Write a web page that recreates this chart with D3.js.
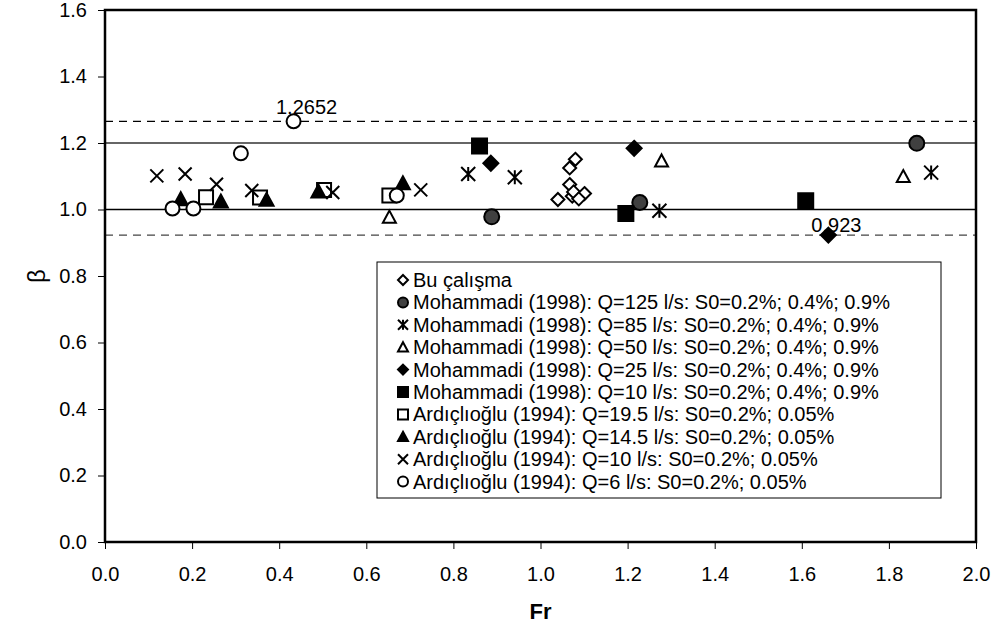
<!DOCTYPE html>
<html>
<head>
<meta charset="utf-8">
<script src="https://cdn.jsdelivr.net/npm/d3@7"></script>
<style>
  body { margin: 0; background: #fff; }
  svg text { font-family: Arial, "Liberation Sans", sans-serif; fill: #000; }
</style>
</head>
<body>
<div id="chart"></div>
<script>
// ---- data ----
const xTicks = [0.0, 0.2, 0.4, 0.6, 0.8, 1.0, 1.2, 1.4, 1.6, 1.8, 2.0];
const yTicks = [0.0, 0.2, 0.4, 0.6, 0.8, 1.0, 1.2, 1.4, 1.6];

const buFr   = [1.080, 1.067, 1.067, 1.040, 1.073, 1.076, 1.101, 1.088];
const buB    = [1.151, 1.125, 1.075, 1.030, 1.040, 1.053, 1.048, 1.032];
const m125Fr = [0.888, 1.228, 1.864];
const m125B  = [0.978, 1.021, 1.199];
const m85Fr  = [0.834, 0.941, 1.273, 1.897];
const m85B   = [1.107, 1.097, 0.996, 1.111];
const m50Fr  = [0.653, 1.278, 1.833];
const m50B   = [0.977, 1.146, 1.099];
const m25Fr  = [0.886, 1.215, 1.661];
const m25B   = [1.139, 1.184, 0.923];
const m10Fr  = [0.860, 1.196, 1.609];
const m10B   = [1.191, 0.988, 1.026];
const a195Fr = [0.232, 0.356, 0.503, 0.653];
const a195B  = [1.037, 1.036, 1.059, 1.042];
const a145Fr = [0.174, 0.266, 0.371, 0.490, 0.684];
const a145B  = [1.031, 1.024, 1.029, 1.054, 1.079];
const a10Fr  = [0.119, 0.184, 0.256, 0.337, 0.523, 0.725];
const a10B   = [1.101, 1.107, 1.076, 1.057, 1.051, 1.059];
const a6Fr   = [0.155, 0.203, 0.312, 0.433, 0.670];
const a6B    = [1.003, 1.003, 1.169, 1.2652, 1.042];

const seriesNames = [
  "Bu çalışma",
  "Mohammadi (1998): Q=125 l/s: S0=0.2%; 0.4%; 0.9%",
  "Mohammadi (1998): Q=85 l/s: S0=0.2%; 0.4%; 0.9%",
  "Mohammadi (1998): Q=50 l/s: S0=0.2%; 0.4%; 0.9%",
  "Mohammadi (1998): Q=25 l/s: S0=0.2%; 0.4%; 0.9%",
  "Mohammadi (1998): Q=10 l/s: S0=0.2%; 0.4%; 0.9%",
  "Ardıçlıoğlu (1994): Q=19.5 l/s: S0=0.2%; 0.05%",
  "Ardıçlıoğlu (1994): Q=14.5 l/s: S0=0.2%; 0.05%",
  "Ardıçlıoğlu (1994): Q=10 l/s: S0=0.2%; 0.05%",
  "Ardıçlıoğlu (1994): Q=6 l/s: S0=0.2%; 0.05%"
];

const solidLines  = [1.0, 1.2];
const dashedLines = [1.2652, 0.923];
const annFr   = [0.433, 1.661];
const annB    = [1.2652, 0.923];
const annText = ["1.2652", "0.923"];

// ---- layout ----
const W = 997, H = 630;
const margin = {top: 10, right: 21, bottom: 88, left: 105};
const width  = W - margin.left - margin.right;
const height = H - margin.top - margin.bottom;

const xScale = d3.scaleLinear().domain([0, 2]).range([0, width]);
const yScale = d3.scaleLinear().domain([0, 1.6]).range([height, 0]);

// marker path centred on 0,0
function markerPath(type, s) {
  const h = s / 2;
  switch (type) {
    case "diamond": return `M0,${-h}L${h},0L0,${h}L${-h},0Z`;
    case "square":  return `M${-h},${-h}H${h}V${h}H${-h}Z`;
    case "triangle": return `M0,${-h}L${h},${h * 0.85}H${-h}Z`;
    case "circle":  return `M${h},0A${h},${h} 0 1,1 ${-h},0A${h},${h} 0 1,1 ${h},0Z`;
    case "cross":   return `M${-h},${-h}L${h},${h}M${h},${-h}L${-h},${h}`;
    case "star":    return `M${-h},${-h}L${h},${h}M${h},${-h}L${-h},${h}M0,${-h}V${h}`;
  }
}

const series = [
  { name: seriesNames[0], fr: buFr,   b: buB,   shape: "diamond",  fill: "#fff", size: 13 },
  { name: seriesNames[1], fr: m125Fr, b: m125B, shape: "circle",   fill: "#404040", size: 15 },
  { name: seriesNames[2], fr: m85Fr,  b: m85B,  shape: "star",     fill: "none", size: 14 },
  { name: seriesNames[3], fr: m50Fr,  b: m50B,  shape: "triangle", fill: "#fff", size: 13 },
  { name: seriesNames[4], fr: m25Fr,  b: m25B,  shape: "diamond",  fill: "#000", size: 15 },
  { name: seriesNames[5], fr: m10Fr,  b: m10B,  shape: "square",   fill: "#000", size: 15 },
  { name: seriesNames[6], fr: a195Fr, b: a195B, shape: "square",   fill: "#fff", size: 14 },
  { name: seriesNames[7], fr: a145Fr, b: a145B, shape: "triangle", fill: "#000", size: 14 },
  { name: seriesNames[8], fr: a10Fr,  b: a10B,  shape: "cross",    fill: "none", size: 13 },
  { name: seriesNames[9], fr: a6Fr,   b: a6B,   shape: "circle",   fill: "#fff", size: 14 }
];

const svg = d3.select("#chart").append("svg")
  .attr("width", W).attr("height", H);

const g = svg.append("g")
  .attr("transform", "translate(" + margin.left + "," + margin.top + ")");

// reference lines
g.selectAll(".solid").data(solidLines).enter().append("line")
  .attr("x1", 0).attr("x2", width)
  .attr("y1", d => yScale(d)).attr("y2", d => yScale(d))
  .attr("stroke", (d, i) => i === 0 ? "#000" : "#333").attr("stroke-width", 1.3);

g.selectAll(".dashed").data(dashedLines).enter().append("line")
  .attr("x1", 0).attr("x2", width)
  .attr("y1", d => yScale(d)).attr("y2", d => yScale(d))
  .attr("stroke", (d, i) => i === 0 ? "#000" : "#444").attr("stroke-width", 1.3)
  .attr("stroke-dasharray", "8,6");

// axes
const xAxis = g.append("g")
  .attr("transform", "translate(0," + height + ")")
  .call(d3.axisBottom(xScale).tickValues(xTicks).tickSize(7).tickPadding(18)
    .tickFormat(d3.format(".1f")));
xAxis.select(".domain").remove();
xAxis.selectAll("line").attr("stroke", "#000");
xAxis.selectAll("text").attr("font-size", 20);

const yAxis = g.append("g")
  .call(d3.axisLeft(yScale).tickValues(yTicks).tickSize(7).tickPadding(11)
    .tickFormat(d3.format(".1f")));
yAxis.select(".domain").remove();
yAxis.selectAll("line").attr("stroke", "#000");
yAxis.selectAll("text").attr("font-size", 20);

// plot frame
g.append("rect")
  .attr("x", 0).attr("y", 0).attr("width", width).attr("height", height)
  .attr("fill", "none").attr("stroke", "#000").attr("stroke-width", 2.5);

// points
series.forEach(s => {
  g.append("g").selectAll("path")
    .data(s.fr.map((f, i) => ({x: f, y: s.b[i]})))
    .enter().append("path")
    .attr("d", markerPath(s.shape, s.size))
    .attr("transform", d => "translate(" + xScale(d.x) + "," + yScale(d.y) + ")")
    .attr("fill", s.fill)
    .attr("stroke", "#000")
    .attr("stroke-width", 2);
});

// value labels (small offsets so the text sits just above-right of the point)
const annDx = [13, 8], annDy = [-7, -3];
g.selectAll(".ann").data(annText).enter().append("text")
  .attr("x", (d, i) => xScale(annFr[i]) + annDx[i])
  .attr("y", (d, i) => yScale(annB[i]) + annDy[i])
  .attr("text-anchor", "middle")
  .attr("font-size", 20)
  .text(d => d);

// legend
const legX = 377 - margin.left, legY = 262 - margin.top;
const legend = g.append("g").attr("transform", "translate(" + legX + "," + legY + ")");
legend.append("rect")
  .attr("width", 564).attr("height", 236)
  .attr("fill", "#fff").attr("stroke", "#000").attr("stroke-width", 1);

series.forEach((s, i) => {
  const cy = 18 + i * 22.4;
  legend.append("path")
    .attr("d", markerPath(s.shape, 10))
    .attr("transform", "translate(26," + cy + ")")
    .attr("fill", s.fill)
    .attr("stroke", "#000")
    .attr("stroke-width", 2);
  legend.append("text")
    .attr("x", 36).attr("y", cy)
    .attr("dy", "0.35em")
    .attr("font-size", 20)
    .text(s.name);
});

// axis titles
svg.append("text")
  .attr("x", margin.left + width / 2).attr("y", 619)
  .attr("text-anchor", "middle")
  .attr("font-size", 22).attr("font-weight", "bold")
  .text("Fr");

svg.append("text")
  .attr("transform", "translate(45," + (margin.top + height / 2) + ") rotate(-90)")
  .attr("text-anchor", "middle")
  .attr("font-size", 24)
  .text("β");
</script>
</body>
</html>
